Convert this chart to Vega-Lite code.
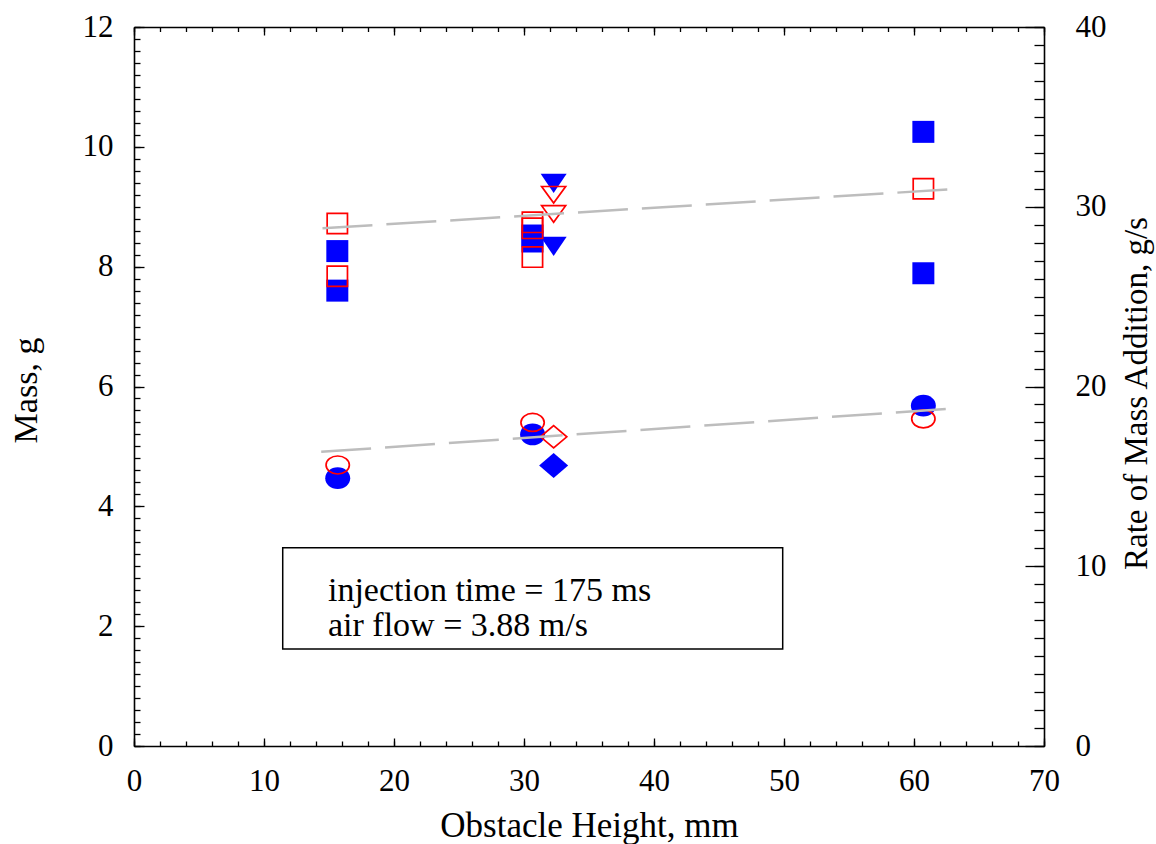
{
  "$schema": "https://vega.github.io/schema/vega-lite/v6.json",
  "width": 910,
  "height": 719,
  "autosize": "none",
  "padding": {"left": 134, "top": 27, "right": 112, "bottom": 98},
  "background": "white",
  "config": {
    "view": {"stroke": null},
    "font": "Liberation Serif",
    "axis": {
      "grid": false,
      "labelFont": "Liberation Serif",
      "titleFont": "Liberation Serif",
      "labelColor": "black",
      "titleColor": "black",
      "domainColor": "black",
      "tickColor": "black",
      "titleFontWeight": "normal",
      "labelFlush": false,
      "labelOverlap": false,
      "tickWidth": 1.3,
      "domainWidth": 1.6
    }
  },
  "datasets": {
    "points": [
      {"x": 15.64, "y": 8.26, "sym": "sq_f", "kind": "filled"},
      {"x": 15.64, "y": 7.6, "sym": "sq_f", "kind": "filled"},
      {"x": 30.65, "y": 8.52, "sym": "sq_f", "kind": "filled"},
      {"x": 30.65, "y": 8.42, "sym": "sq_f", "kind": "filled"},
      {"x": 60.72, "y": 10.25, "sym": "sq_f", "kind": "filled"},
      {"x": 60.72, "y": 7.89, "sym": "sq_f", "kind": "filled"},
      {"x": 15.67, "y": 4.47, "sym": "ci_f", "kind": "filled"},
      {"x": 30.66, "y": 5.2, "sym": "ci_f", "kind": "filled"},
      {"x": 60.72, "y": 5.68, "sym": "ci_f", "kind": "filled"},
      {"x": 32.28, "y": 9.39, "sym": "tr_f", "kind": "filled"},
      {"x": 32.28, "y": 8.34, "sym": "tr_f", "kind": "filled"},
      {"x": 32.28, "y": 4.68, "sym": "di_f", "kind": "filled"},
      {"x": 15.64, "y": 8.72, "sym": "sq_o", "kind": "open"},
      {"x": 15.64, "y": 7.84, "sym": "sq_o", "kind": "open"},
      {"x": 30.65, "y": 8.74, "sym": "sq_o", "kind": "open"},
      {"x": 30.65, "y": 8.64, "sym": "sq_o", "kind": "open"},
      {"x": 30.65, "y": 8.16, "sym": "sq_o", "kind": "open"},
      {"x": 60.72, "y": 9.3, "sym": "sq_o", "kind": "open"},
      {"x": 15.67, "y": 4.69, "sym": "ci_o", "kind": "open"},
      {"x": 30.66, "y": 5.4, "sym": "ci_o", "kind": "open"},
      {"x": 60.72, "y": 5.46, "sym": "ci_o", "kind": "open"},
      {"x": 32.28, "y": 9.2, "sym": "tr_o", "kind": "open"},
      {"x": 32.28, "y": 8.88, "sym": "tr_o", "kind": "open"},
      {"x": 32.28, "y": 5.16, "sym": "di_o", "kind": "open"}
    ],
    "fits": [
      {"fit": "upper", "x": 14.5, "y": 8.64},
      {"fit": "upper", "x": 62.75, "y": 9.29},
      {"fit": "lower", "x": 14.4, "y": 4.91},
      {"fit": "lower", "x": 62.85, "y": 5.63}
    ],
    "box": [
      {"x": 11.44, "x2": 49.9, "y": 1.62, "y2": 3.31}
    ],
    "notes": [
      {"x": 14.92, "y": 2.42, "text": "injection time = 175 ms"},
      {"x": 14.92, "y": 1.835, "text": "air flow = 3.88 m/s"}
    ]
  },
  "data": {"name": "points"},
  "layer": [
    {
      "mark": {"type": "point", "opacity": 0},
      "encoding": {
        "x": {"field": "x", "type": "quantitative", "scale": {"domain": [0, 70], "nice": false, "zero": false},
          "axis": {"orient": "bottom", "values": [0, 10, 20, 30, 40, 50, 60, 70], "ticks": false, "domain": false, "labelFontSize": 31, "labelPadding": 44, "labelBaseline": "alphabetic", "title": "Obstacle Height, mm", "titleFontSize": 35, "titleX": 455, "titleY": 90, "titleAlign": "center", "titleBaseline": "alphabetic", "titleAngle": 0}},
        "y": {"field": "y", "type": "quantitative", "scale": {"domain": [0, 12], "nice": false, "zero": false},
          "axis": {"orient": "left", "values": [0, 2, 4, 6, 8, 10, 12], "ticks": false, "domain": false, "labelFontSize": 31, "labelPadding": 21, "labelBaseline": "middle", "title": "Mass, g", "titleFontSize": 34, "titleX": -98, "titleY": 363, "titleAngle": 270, "titleAlign": "center", "titleBaseline": "alphabetic"}}
      }
    },
    {
      "mark": {"type": "point", "opacity": 0},
      "encoding": {
        "x": {"field": "x", "type": "quantitative", "scale": {"domain": [0, 70], "nice": false, "zero": false},
          "axis": {"orient": "bottom", "values": [0, 10, 20, 30, 40, 50, 60, 70], "labels": false, "domain": true, "tickSize": -8, "title": null}},
        "y": {"field": "y", "type": "quantitative", "scale": {"domain": [0, 12], "nice": false, "zero": false},
          "axis": {"orient": "left", "values": [0, 2, 4, 6, 8, 10, 12], "labels": false, "domain": true, "tickSize": -10, "title": null}}
      }
    },
    {
      "mark": {"type": "point", "opacity": 0},
      "encoding": {
        "x": {"field": "x", "type": "quantitative", "scale": {"domain": [0, 70], "nice": false, "zero": false},
          "axis": {"orient": "bottom", "values": [0, 2, 4, 6, 8, 10, 12, 14, 16, 18, 20, 22, 24, 26, 28, 30, 32, 34, 36, 38, 40, 42, 44, 46, 48, 50, 52, 54, 56, 58, 60, 62, 64, 66, 68, 70], "labels": false, "domain": false, "tickSize": -5, "title": null}},
        "y": {"field": "y", "type": "quantitative", "scale": {"domain": [0, 12], "nice": false, "zero": false},
          "axis": {"orient": "left", "values": [0, 0.2, 0.4, 0.6, 0.8, 1, 1.2, 1.4, 1.6, 1.8, 2, 2.2, 2.4, 2.6, 2.8, 3, 3.2, 3.4, 3.6, 3.8, 4, 4.2, 4.4, 4.6, 4.8, 5, 5.2, 5.4, 5.6, 5.8, 6, 6.2, 6.4, 6.6, 6.8, 7, 7.2, 7.4, 7.6, 7.8, 8, 8.2, 8.4, 8.6, 8.8, 9, 9.2, 9.4, 9.6, 9.8, 10, 10.2, 10.4, 10.6, 10.8, 11, 11.2, 11.4, 11.6, 11.8, 12], "labels": false, "domain": false, "tickSize": -6, "title": null}}
      }
    },
    {
      "mark": {"type": "point", "opacity": 0},
      "encoding": {
        "x": {"field": "x", "type": "quantitative", "scale": {"domain": [0, 70], "nice": false, "zero": false},
          "axis": {"orient": "top", "values": [0, 2, 4, 6, 8, 10, 12, 14, 16, 18, 20, 22, 24, 26, 28, 30, 32, 34, 36, 38, 40, 42, 44, 46, 48, 50, 52, 54, 56, 58, 60, 62, 64, 66, 68, 70], "labels": false, "domain": true, "tickSize": -4.5, "title": null}},
        "y": {"field": "y", "type": "quantitative", "scale": {"domain": [0, 40], "nice": false, "zero": false},
          "axis": {"orient": "right", "values": [0, 10, 20, 30, 40], "ticks": false, "domain": false, "labelFontSize": 31, "labelPadding": 31, "labelBaseline": "middle", "title": "Rate of Mass Addition, g/s", "titleFontSize": 33, "titleX": 102, "titleY": 366, "titleAngle": 270, "titleAlign": "center", "titleBaseline": "alphabetic"}}
      }
    },
    {
      "mark": {"type": "point", "opacity": 0},
      "encoding": {
        "x": {"field": "x", "type": "quantitative", "scale": {"domain": [0, 70], "nice": false, "zero": false},
          "axis": {"orient": "top", "values": [0, 10, 20, 30, 40, 50, 60, 70], "labels": false, "domain": false, "tickSize": -8, "title": null}},
        "y": {"field": "y", "type": "quantitative", "scale": {"domain": [0, 40], "nice": false, "zero": false},
          "axis": {"orient": "right", "values": [0, 10, 20, 30, 40], "labels": false, "domain": true, "tickSize": -19, "title": null}}
      }
    },
    {
      "mark": {"type": "point", "opacity": 0},
      "encoding": {
        "x": {"field": "x", "type": "quantitative", "scale": {"domain": [0, 70], "nice": false, "zero": false}, "axis": null},
        "y": {"field": "y", "type": "quantitative", "scale": {"domain": [0, 40], "nice": false, "zero": false},
          "axis": {"orient": "right", "values": [0, 1, 2, 3, 4, 5, 6, 7, 8, 9, 10, 11, 12, 13, 14, 15, 16, 17, 18, 19, 20, 21, 22, 23, 24, 25, 26, 27, 28, 29, 30, 31, 32, 33, 34, 35, 36, 37, 38, 39, 40], "labels": false, "domain": false, "tickSize": -10, "title": null}}
      }
    },
    {
      "data": {"name": "box"},
      "mark": {"type": "rect", "fill": "white", "stroke": "black", "strokeWidth": 1.5},
      "encoding": {
        "x": {"field": "x", "type": "quantitative", "scale": {"domain": [0, 70], "nice": false, "zero": false}, "axis": null},
        "x2": {"field": "x2"},
        "y": {"field": "y", "type": "quantitative", "scale": {"domain": [0, 12], "nice": false, "zero": false}, "axis": null},
        "y2": {"field": "y2"}
      }
    },
    {
      "data": {"name": "notes"},
      "mark": {"type": "text", "align": "left", "baseline": "alphabetic", "font": "Liberation Serif", "fontSize": 34, "color": "black"},
      "encoding": {
        "x": {"field": "x", "type": "quantitative", "scale": {"domain": [0, 70], "nice": false, "zero": false}, "axis": null},
        "y": {"field": "y", "type": "quantitative", "scale": {"domain": [0, 12], "nice": false, "zero": false}, "axis": null},
        "text": {"field": "text", "type": "nominal"}
      }
    },
    {
      "transform": [{"filter": "datum.kind === 'filled'"}],
      "mark": {"type": "point", "filled": true, "opacity": 1, "color": "#0000ff", "strokeWidth": 0, "size": 900},
      "encoding": {
        "x": {"field": "x", "type": "quantitative", "scale": {"domain": [0, 70], "nice": false, "zero": false}, "axis": null},
        "y": {"field": "y", "type": "quantitative", "scale": {"domain": [0, 12], "nice": false, "zero": false}, "axis": null},
        "shape": {"field": "sym", "type": "nominal", "legend": null, "scale": {
          "domain": ["sq_f", "ci_f", "tr_f", "di_f"],
          "range": [
            "M-0.733,-0.733L0.733,-0.733L0.733,0.733L-0.733,0.733Z",
            "M-0.833,0C-0.833,-0.399 -0.46,-0.723 0,-0.723C0.46,-0.723 0.833,-0.399 0.833,0C0.833,0.399 0.46,0.723 0,0.723C-0.46,0.723 -0.833,0.399 -0.833,0Z",
            "M-0.867,-0.643L0.867,-0.643L0,0.643Z",
            "M0,-0.833L0.967,0L0,0.833L-0.967,0Z"]}}
      }
    },
    {
      "transform": [{"filter": "datum.kind === 'open'"}],
      "mark": {"type": "point", "filled": false, "opacity": 1, "color": "#ff0000", "strokeWidth": 1.7, "size": 900},
      "encoding": {
        "x": {"field": "x", "type": "quantitative", "scale": {"domain": [0, 70], "nice": false, "zero": false}, "axis": null},
        "y": {"field": "y", "type": "quantitative", "scale": {"domain": [0, 12], "nice": false, "zero": false}, "axis": null},
        "shape": {"field": "sym", "type": "nominal", "legend": null, "scale": {
          "domain": ["sq_o", "ci_o", "tr_o", "di_o"],
          "range": [
            "M-0.677,-0.677L0.677,-0.677L0.677,0.677L-0.677,0.677Z",
            "M-0.777,0C-0.777,-0.331 -0.429,-0.6 0,-0.6C0.429,-0.6 0.777,-0.331 0.777,0C0.777,0.331 0.429,0.6 0,0.6C-0.429,0.6 -0.777,0.331 -0.777,0Z",
            "M-0.8,-0.55L0.8,-0.55L0,0.55Z",
            "M0,-0.743L0.877,0L0,0.743L-0.877,0Z"]}}
      }
    },
    {
      "data": {"name": "fits"},
      "mark": {"type": "line", "color": "#bdbdbd", "strokeWidth": 2.5, "strokeDash": [50, 14]},
      "encoding": {
        "x": {"field": "x", "type": "quantitative", "scale": {"domain": [0, 70], "nice": false, "zero": false}, "axis": null},
        "y": {"field": "y", "type": "quantitative", "scale": {"domain": [0, 12], "nice": false, "zero": false}, "axis": null},
        "detail": {"field": "fit", "type": "nominal"}
      }
    }
  ],
  "resolve": {
    "scale": {"x": "independent", "y": "independent", "shape": "independent"},
    "axis": {"x": "independent", "y": "independent"}
  }
}
